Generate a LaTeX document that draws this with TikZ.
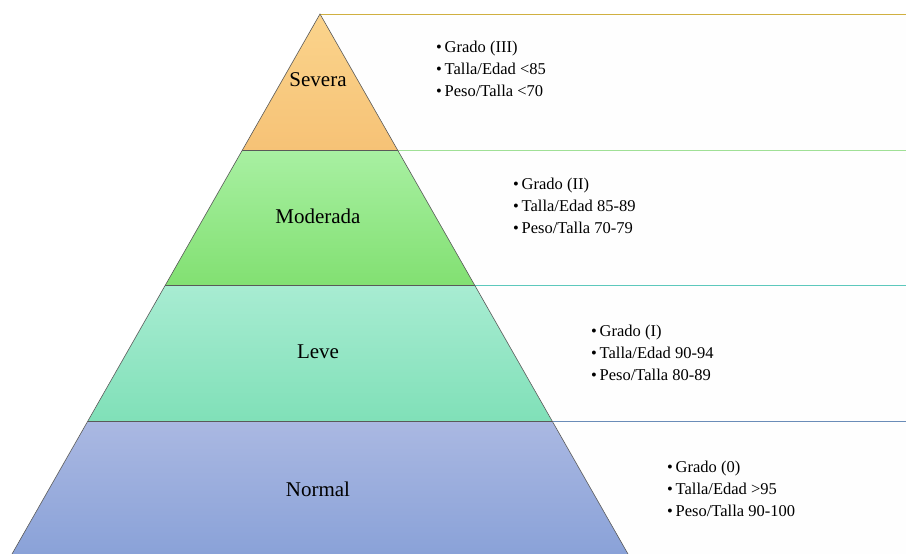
\documentclass[tikz,border=0pt]{standalone}
\usepackage{fontspec}
\setmainfont{Liberation Serif}
\newfontfamily\pyrfont{Liberation Serif}

\definecolor{severaTop}{HTML}{FBD48C}
\definecolor{severaBot}{HTML}{F6C276}
\definecolor{moderadaTop}{HTML}{A8F0A2}
\definecolor{moderadaBot}{HTML}{82E072}
\definecolor{leveTop}{HTML}{A8ECD2}
\definecolor{leveBot}{HTML}{80E0B8}
\definecolor{normalTop}{HTML}{AAB8E2}
\definecolor{normalBot}{HTML}{8AA2D8}
\definecolor{panelFill}{HTML}{FEFEFE}
\definecolor{severaLine}{HTML}{D0B040}
\definecolor{moderadaLine}{HTML}{A0E096}
\definecolor{leveLine}{HTML}{5CC8BC}
\definecolor{normalLine}{HTML}{6A8CB8}

\begin{document}
\begin{tikzpicture}[x=1pt, y=-1pt,
  band/.style={draw=black!65, line width=0.6pt},
  panel/.style={fill=panelFill},
  rim/.style={line width=1pt},
  level/.style={font=\pyrfont\fontsize{21}{25}\selectfont},
  crit/.style={anchor=west, align=left, inner sep=0pt,
               font=\pyrfont\fontsize{16.5}{22}\selectfont}
]
  \useasboundingbox (0,0) rectangle (906,554);
  \fill[white] (0,0) rectangle (906,554);

  % panels right of the pyramid
  \fill[panel] (320,14) -- (906,14) -- (906,150) -- (397.6,150) -- cycle;
  \fill[panel] (397.6,150) -- (906,150) -- (906,285) -- (474.6,285) -- cycle;
  \fill[panel] (474.6,285) -- (906,285) -- (906,421) -- (552,421) -- cycle;
  \fill[panel] (552,421) -- (906,421) -- (906,554) -- (628,554) -- cycle;
  \draw[rim, severaLine] (320,14) -- (906,14);
  \draw[rim, moderadaLine] (397.6,150) -- (906,150);
  \draw[rim, leveLine] (474.6,285) -- (906,285);
  \draw[rim, normalLine] (552,421) -- (906,421);

  % pyramid bands
  \shade[top color=severaTop, bottom color=severaBot] (320,14) -- (397.6,150) -- (242.4,150) -- cycle;
  \shade[top color=moderadaTop, bottom color=moderadaBot] (242.4,150) -- (397.6,150) -- (474.6,285) -- (165.4,285) -- cycle;
  \shade[top color=leveTop, bottom color=leveBot] (165.4,285) -- (474.6,285) -- (552,421) -- (88,421) -- cycle;
  \shade[top color=normalTop, bottom color=normalBot] (88,421) -- (552,421) -- (628,554) -- (12,554) -- cycle;
  \draw[band] (12,554) -- (320,14) -- (628,554);
  \draw[band] (242.4,150) -- (397.6,150);
  \draw[band] (165.4,285) -- (474.6,285);
  \draw[band] (88,421) -- (552,421);

  \node[level] (severa) at (318,80) {Severa};
  \node[level] (moderada) at (318,216) {Moderada};
  \node[level] (leve) at (318,352) {Leve};
  \node[level] (normal) at (318,489) {Normal};

  \node[crit] (severaCrit) at (436,69) {\textbullet\,Grado (III)\\\textbullet\,Talla/Edad <85\\\textbullet\,Peso/Talla <70};
  \node[crit] (moderadaCrit) at (513,206) {\textbullet\,Grado (II)\\\textbullet\,Talla/Edad 85-89\\\textbullet\,Peso/Talla 70-79};
  \node[crit] (leveCrit) at (591,353) {\textbullet\,Grado (I)\\\textbullet\,Talla/Edad 90-94\\\textbullet\,Peso/Talla 80-89};
  \node[crit] (normalCrit) at (667,489) {\textbullet\,Grado (0)\\\textbullet\,Talla/Edad >95\\\textbullet\,Peso/Talla 90-100};
\end{tikzpicture}
\end{document}
